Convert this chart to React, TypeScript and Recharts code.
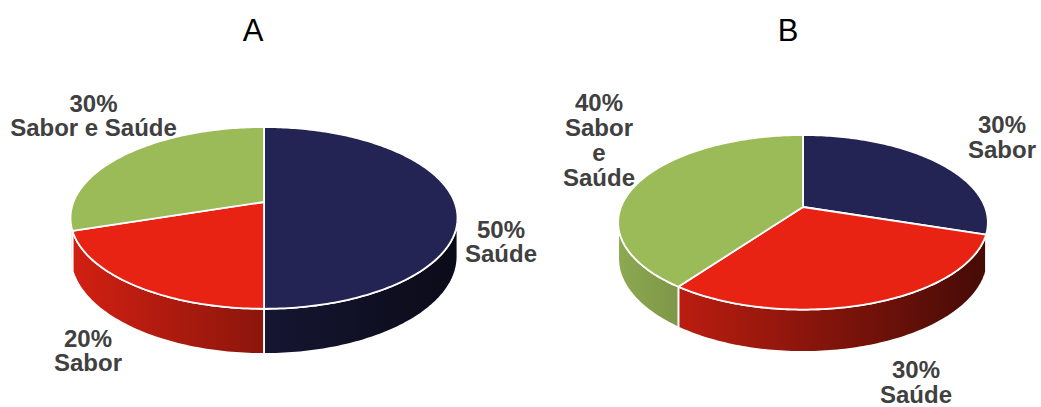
import React from 'react';
import { PieChart, Pie } from 'recharts';

// ---- data ----
const TITLES = ['A', 'B'];
const CATEGORIES_A = ['Saúde', 'Sabor', 'Sabor e Saúde'];
const VALUES_A = [50, 20, 30];
const CATEGORIES_B = ['Sabor', 'Saúde', 'Sabor e Saúde'];
const VALUES_B = [30, 30, 40];

// ---- styles / layout ----
const SLICE_COLORS = ['#232454', '#e82314', '#9bbb59'];
const LABEL_COLOR = '#404040';
const FONT = '"Liberation Sans", Arial, Helvetica, sans-serif';

type Geom = { cx: number; cy: number; rx: number; ry: number; depth: number; persp: number };
const GEOM_A: Geom = { cx: 264, cy: 202, rx: 190.5, ry: 88.1, depth: 37.3, persp: 0.175 };
const GEOM_B: Geom = { cx: 803, cy: 207, rx: 182, ry: 84.6, depth: 35, persp: 0.175 };

// label placement relative to the pie centre: [x centre, first baseline]
const LABEL_OFFSETS_A = [[237, 36], [-176, 145], [-170.5, -90]];
const LABEL_OFFSETS_B = [[199, -74], [113, 171], [-204, -96]];

const dataA = CATEGORIES_A.map((name, i) => ({ name, value: VALUES_A[i] }));
const dataB = CATEGORIES_B.map((name, i) => ({ name, value: VALUES_B[i] }));

function hexToRgb(h: string) {
  const n = parseInt(h.slice(1), 16);
  return [(n >> 16) & 255, (n >> 8) & 255, n & 255];
}
function shade(h: string, f: number) {
  const [r, g, b] = hexToRgb(h);
  return `rgb(${Math.round(r * f)},${Math.round(g * f)},${Math.round(b * f)})`;
}

function project(g: Geom, cx: number, cy: number, rx: number, deg: number, down: boolean) {
  const t = (deg * Math.PI) / 180;
  const z = Math.sin(t);
  const f = 1 / (1 + g.persp * z);
  return [cx + rx * Math.cos(t) * f, cy - g.ry * z * f + (down ? g.depth * f : 0)];
}

function rim(g: Geom, cx: number, cy: number, rx: number, from: number, to: number, down: boolean) {
  const n = Math.max(2, Math.ceil(Math.abs(to - from)));
  const pts: number[][] = [];
  for (let k = 0; k <= n; k++) {
    pts.push(project(g, cx, cy, rx, from + ((to - from) * k) / n, down));
  }
  return pts;
}

const toPath = (pts: number[][]) => pts.map((p) => `${p[0].toFixed(2)},${p[1].toFixed(2)}`).join(' L ');

function make3D(g: Geom, key: string) {
  const sil = (Math.asin(g.persp) * 180) / Math.PI;
  const frontLo = -180 + sil;
  const frontHi = -sil;
  return (props: any) => {
    const { cx, cy, outerRadius, startAngle, endAngle, index } = props;
    const rx = outerRadius;
    const color = SLICE_COLORS[index % SLICE_COLORS.length];
    const lo = Math.min(startAngle, endAngle);
    const hi = Math.max(startAngle, endAngle);
    const a = Math.max(lo, frontLo);
    const b = Math.min(hi, frontHi);
    const gid = `side-${key}-${index}`;
    let side: React.ReactNode = null;
    if (a < b) {
      const top = rim(g, cx, cy, rx, a, b, false);
      const bot = rim(g, cx, cy, rx, b, a, true);
      side = (
        <path
          d={`M ${toPath(top.concat(bot))} Z`}
          fill={`url(#${gid})`}
          stroke="#ffffff"
          strokeWidth={1.8}
          strokeLinejoin="round"
        />
      );
    }
    const topArc = rim(g, cx, cy, rx, hi, lo, false);
    const topPath = `M ${cx},${cy} L ${toPath(topArc)} Z`;
    return (
      <g>
        <defs>
          <linearGradient id={gid} gradientUnits="userSpaceOnUse" x1={cx - rx} x2={cx + rx} y1={0} y2={0}>
            <stop offset="0%" stopColor={shade(color, 0.9)} />
            <stop offset="100%" stopColor={shade(color, 0.3)} />
          </linearGradient>
        </defs>
        {side}
        <path d={topPath} fill={color} stroke="#ffffff" strokeWidth={1.8} strokeLinejoin="round" />
      </g>
    );
  };
}

function makeText(offsets: number[][], lineHeight: number, wrapWords: boolean) {
  return (props: any) => {
    const { cx, cy, index, percent, payload, name } = props;
    const label = (payload && payload.name) || name;
    const nameLines = wrapWords ? String(label).split(' ') : [String(label)];
    const lines = [`${Math.round(percent * 100)}%`, ...nameLines];
    const [dx, dy] = offsets[index];
    return (
      <text
        x={cx + dx}
        y={cy + dy}
        textAnchor="middle"
        fontFamily={FONT}
        fontWeight="bold"
        fontSize={24}
        fill={LABEL_COLOR}
      >
        {lines.map((ln, i) => (
          <tspan key={i} x={cx + dx} dy={i === 0 ? 0 : lineHeight}>
            {ln}
          </tspan>
        ))}
      </text>
    );
  };
}

const pieCommon = {
  dataKey: 'value',
  nameKey: 'name',
  startAngle: 90,
  endAngle: -270,
  fill: 'transparent',
  stroke: 'none',
  isAnimationActive: false,
  labelLine: false,
};

export default function App() {
  return (
    <div style={{ position: 'absolute', left: 0, top: 0, width: 1041, height: 407, background: '#ffffff' }}>
      <PieChart width={1041} height={407} margin={{ top: 0, right: 0, bottom: 0, left: 0 }}>
        <Pie {...pieCommon} data={dataA} cx={GEOM_A.cx} cy={GEOM_A.cy} outerRadius={GEOM_A.rx} label={make3D(GEOM_A, 'a')} />
        <Pie {...pieCommon} data={dataB} cx={GEOM_B.cx} cy={GEOM_B.cy} outerRadius={GEOM_B.rx} label={make3D(GEOM_B, 'b')} />
        <Pie {...pieCommon} data={dataA} cx={GEOM_A.cx} cy={GEOM_A.cy} outerRadius={GEOM_A.rx} label={makeText(LABEL_OFFSETS_A, 24, false)} />
        <Pie {...pieCommon} data={dataB} cx={GEOM_B.cx} cy={GEOM_B.cy} outerRadius={GEOM_B.rx} label={makeText(LABEL_OFFSETS_B, 25, true)} />
      </PieChart>
      <svg width={1041} height={407} style={{ position: 'absolute', left: 0, top: 0, pointerEvents: 'none' }}>
        <text x={253} y={41} textAnchor="middle" fontFamily={FONT} fontSize={31} fill="#000000">{TITLES[0]}</text>
        <text x={788} y={41} textAnchor="middle" fontFamily={FONT} fontSize={31} fill="#000000">{TITLES[1]}</text>
      </svg>
    </div>
  );
}
